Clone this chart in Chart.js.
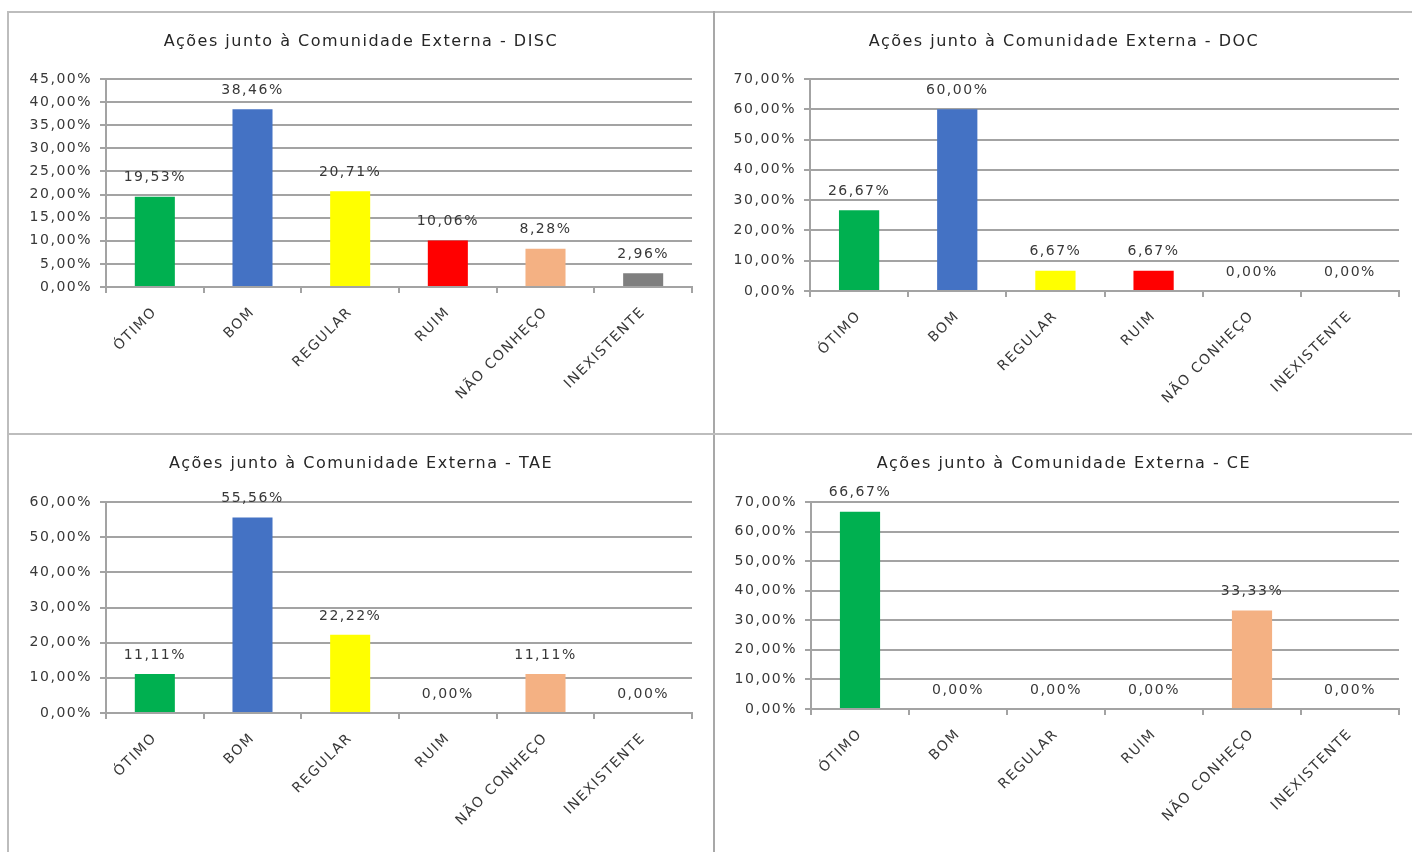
<!DOCTYPE html>
<html>
<head>
<meta charset="utf-8">
<script src="https://cdn.jsdelivr.net/npm/chart.js@4.4.1/dist/chart.umd.min.js"></script>
<style>
  html, body { margin: 0; padding: 0; background: #fff; }
  #sheet { position: relative; width: 1412px; height: 852px; overflow: hidden; background: #fff; }
  .rule { position: absolute; background: #bdbdbd; }
  .panel { position: absolute; }
  canvas { display: block; }
</style>
</head>
<body>
<div id="sheet">
  <div class="rule" style="left:8px; top:11px; width:1404px; height:2px;"></div>
  <div class="rule" style="left:7px; top:11px; width:2px; height:841px;"></div>
  <div class="rule" style="left:713px; top:11px; width:2px; height:841px; background:#a8a8a8;"></div>
  <div class="rule" style="left:8px; top:433px; width:1404px; height:2px;"></div>

  <div class="panel" style="left:10px; top:14px;"><canvas id="chartDisc" width="702" height="418"></canvas></div>
  <div class="panel" style="left:716px; top:14px;"><canvas id="chartDoc" width="696" height="418"></canvas></div>
  <div class="panel" style="left:10px; top:436px;"><canvas id="chartTae" width="702" height="416"></canvas></div>
  <div class="panel" style="left:716px; top:436px;"><canvas id="chartCe" width="696" height="416"></canvas></div>
</div>

<script>
// Response categories shared by all four charts
const categories = ['ÓTIMO', 'BOM', 'REGULAR', 'RUIM', 'NÃO CONHEÇO', 'INEXISTENTE'];

// Percentages per group
const discValues = [19.53, 38.46, 20.71, 10.06, 8.28, 2.96];
const docValues  = [26.67, 60.00, 6.67, 6.67, 0.00, 0.00];
const taeValues  = [11.11, 55.56, 22.22, 0.00, 11.11, 0.00];
const ceValues   = [66.67, 0.00, 0.00, 0.00, 33.33, 0.00];

// Chart titles
const titles = [
  'Ações junto à Comunidade Externa - DISC',
  'Ações junto à Comunidade Externa - DOC',
  'Ações junto à Comunidade Externa - TAE',
  'Ações junto à Comunidade Externa - CE'
];

// Value axis tick labels (top to bottom) for each chart
const discTicks = ['45,00%', '40,00%', '35,00%', '30,00%', '25,00%', '20,00%', '15,00%', '10,00%', '5,00%', '0,00%'];
const docTicks  = ['70,00%', '60,00%', '50,00%', '40,00%', '30,00%', '20,00%', '10,00%', '0,00%'];
const taeTicks  = ['60,00%', '50,00%', '40,00%', '30,00%', '20,00%', '10,00%', '0,00%'];
const ceTicks   = ['70,00%', '60,00%', '50,00%', '40,00%', '30,00%', '20,00%', '10,00%', '0,00%'];

// One colour per category
const barColors = ['#00B050', '#4472C4', '#FFFF00', '#FF0000', '#F4B183', '#7F7F7F'];

const FONT = '"DejaVu Sans", "Liberation Sans", sans-serif';
const TEXT = '#383838';
const GRID = '#a3a3a3';

function pct(v) {
  return Number(v).toFixed(2).replace('.', ',') + '%';
}

function parseTick(label) {
  return parseFloat(label.replace('%', '').replace(',', '.'));
}

// Slightly wider lettering for every text on the canvas
const wideText = {
  id: 'wideText',
  beforeUpdate(chart) { chart.ctx.letterSpacing = '1.5px'; },
  beforeDraw(chart) { chart.ctx.letterSpacing = '1.5px'; }
};

// Writes the percentage above every bar
const valueLabels = {
  id: 'valueLabels',
  afterDatasetsDraw(chart) {
    const ctx = chart.ctx;
    const meta = chart.getDatasetMeta(0);
    const data = chart.data.datasets[0].data;
    ctx.save();
    ctx.font = '14px ' + FONT;
    ctx.fillStyle = TEXT;
    ctx.textAlign = 'center';
    ctx.textBaseline = 'middle';
    meta.data.forEach((bar, i) => {
      ctx.fillText(pct(data[i]), bar.x, bar.y - 19);
    });
    ctx.restore();
  }
};

function buildChart(id, title, values, tickLabels, box) {
  const nums = tickLabels.map(parseTick);
  const yMax = Math.max(...nums);
  const step = nums[0] - nums[1];
  const lineH = 16 * 1.2;
  return new Chart(document.getElementById(id), {
    type: 'bar',
    data: {
      labels: categories,
      datasets: [{
        data: values,
        backgroundColor: barColors,
        borderWidth: 0,
        categoryPercentage: 1,
        barPercentage: 0.41
      }]
    },
    options: {
      responsive: false,
      animation: false,
      events: [],
      layout: { padding: { left: box.side, right: box.side, top: 0, bottom: 0 } },
      plugins: {
        legend: { display: false },
        tooltip: { enabled: false },
        title: {
          display: true,
          text: title,
          color: '#262626',
          font: { family: FONT, size: 16, weight: 'normal' },
          padding: { top: box.titleMid - lineH / 2, bottom: box.top - (box.titleMid + lineH / 2) }
        }
      },
      scales: {
        x: {
          grid: { drawOnChartArea: false, drawTicks: true, tickLength: 6, color: GRID, lineWidth: 2, offset: true },
          border: { color: GRID, width: 2 },
          ticks: {
            autoSkip: false, minRotation: 45, maxRotation: 45, padding: 11,
            color: TEXT, font: { family: FONT, size: 14 }
          },
          afterFit(scale) { scale.height = box.xHeight; }
        },
        y: {
          min: 0, max: yMax,
          grid: { color: GRID, lineWidth: 2, tickLength: 6 },
          border: { color: GRID, width: 2 },
          ticks: {
            stepSize: step, padding: 8,
            color: TEXT, font: { family: FONT, size: 14 },
            callback: (v) => pct(v)
          },
          afterFit(scale) { scale.width = box.left - box.side; }
        }
      }
    },
    plugins: [wideText, valueLabels]
  });
}

// Plot placement inside each canvas
buildChart('chartDisc', titles[0], discValues, discTicks, { side: 20, left: 96, top: 65, xHeight: 145, titleMid: 28 });
buildChart('chartDoc',  titles[1], docValues,  docTicks,  { side: 13, left: 94, top: 65, xHeight: 141, titleMid: 28 });
buildChart('chartTae',  titles[2], taeValues,  taeTicks,  { side: 20, left: 96, top: 66, xHeight: 139, titleMid: 28 });
buildChart('chartCe',   titles[3], ceValues,   ceTicks,   { side: 13, left: 95, top: 66, xHeight: 143, titleMid: 28 });
</script>
</body>
</html>
